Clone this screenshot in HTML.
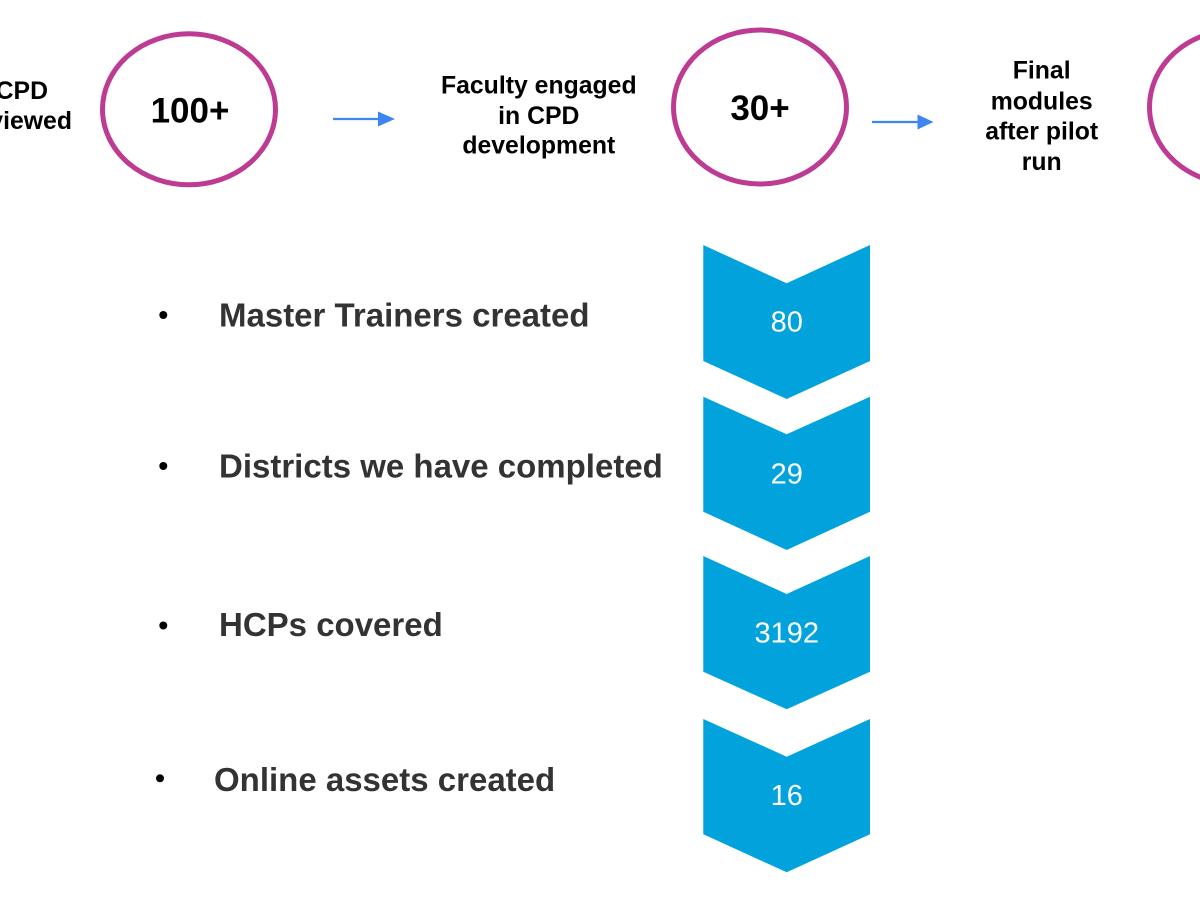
<!DOCTYPE html>
<html>
<head>
<meta charset="utf-8">
<style>
  html, body { margin: 0; padding: 0; background: #ffffff; }
  body { width: 1200px; height: 908px; overflow: hidden; position: relative; }
  svg { position: absolute; left: 0; top: 0; }
  .lbl { font-family: "Liberation Sans", Arial, sans-serif; font-weight: bold; font-size: 24.8px; fill: #000; }
  .big { font-family: "Liberation Sans", Arial, sans-serif; font-weight: bold; font-size: 35px; fill: #000; }
  .bul { font-family: "Liberation Sans", Arial, sans-serif; font-weight: bold; font-size: 33px; fill: #333333; }
  .num { font-family: "Liberation Sans", Arial, sans-serif; font-size: 29px; fill: #ffffff; }
</style>
</head>
<body>
<svg width="1200" height="908" viewBox="0 0 1200 908" xmlns="http://www.w3.org/2000/svg">
  <!-- Left partial label -->
  <text class="lbl" x="48" y="99" text-anchor="end">CPD</text>
  <text class="lbl" x="72" y="129" text-anchor="end">reviewed</text>

  <!-- Circle 1 -->
  <ellipse cx="189" cy="109.3" rx="86.5" ry="75.5" fill="none" stroke="#BE3B93" stroke-width="5"/>
  <text class="big" x="190" y="122.5" text-anchor="middle">100+</text>

  <!-- Arrow 1 -->
  <line x1="333" y1="119" x2="380" y2="119" stroke="#3D85F0" stroke-width="2.2"/>
  <polygon points="378,111.5 395,119 378,126.5" fill="#3D85F0"/>

  <!-- Faculty label -->
  <text class="lbl" x="538.8" y="93.3" text-anchor="middle">Faculty engaged</text>
  <text class="lbl" x="538.8" y="124" text-anchor="middle">in CPD</text>
  <text class="lbl" x="538.8" y="153.5" text-anchor="middle">development</text>

  <!-- Circle 2 -->
  <ellipse cx="760" cy="107" rx="86.5" ry="77" fill="none" stroke="#BE3B93" stroke-width="5"/>
  <text class="big" x="760" y="120" text-anchor="middle">30+</text>

  <!-- Arrow 2 -->
  <line x1="872" y1="122" x2="920" y2="122" stroke="#3D85F0" stroke-width="2.2"/>
  <polygon points="917.5,114.5 933.5,122 917.5,129.5" fill="#3D85F0"/>

  <!-- Final label -->
  <text class="lbl" x="1041.7" y="78.3" text-anchor="middle">Final</text>
  <text class="lbl" x="1041.7" y="109.3" text-anchor="middle">modules</text>
  <text class="lbl" x="1041.7" y="139.3" text-anchor="middle">after pilot</text>
  <text class="lbl" x="1041.7" y="170" text-anchor="middle">run</text>

  <!-- Circle 3 (partial) -->
  <ellipse cx="1236" cy="107" rx="86.5" ry="77" fill="none" stroke="#BE3B93" stroke-width="5"/>

  <!-- Chevrons -->
  <g fill="#02A3DD">
    <polygon points="703.3,245 786.7,283.3 870,245 870,361 786.7,399 703.3,361"/>
    <polygon points="703.3,396.7 786.7,434.3 870,396.7 870,511.7 786.7,550 703.3,511.7"/>
    <polygon points="703.3,556 786.7,594 870,556 870,671.7 786.7,709.3 703.3,671.7"/>
    <polygon points="703.3,719 786.7,756.7 870,719 870,834.3 786.7,872.3 703.3,834.3"/>
  </g>
  <text class="num" x="786.7" y="331.7" text-anchor="middle">80</text>
  <text class="num" x="786.7" y="483.3" text-anchor="middle">29</text>
  <text class="num" x="786.7" y="642.3" text-anchor="middle">3192</text>
  <text class="num" x="786.7" y="805" text-anchor="middle">16</text>

  <!-- Bullets -->
  <circle cx="163.3" cy="315" r="4" fill="#000"/>
  <text class="bul" x="219" y="326.5">Master Trainers created</text>

  <circle cx="163.3" cy="466" r="4" fill="#000"/>
  <text class="bul" x="219" y="477.5">Districts we have completed</text>

  <circle cx="163.3" cy="625.5" r="4" fill="#000"/>
  <text class="bul" x="219" y="636">HCPs covered</text>

  <circle cx="160" cy="778.3" r="4" fill="#000"/>
  <text class="bul" x="214" y="791">Online assets created</text>
</svg>
</body>
</html>
